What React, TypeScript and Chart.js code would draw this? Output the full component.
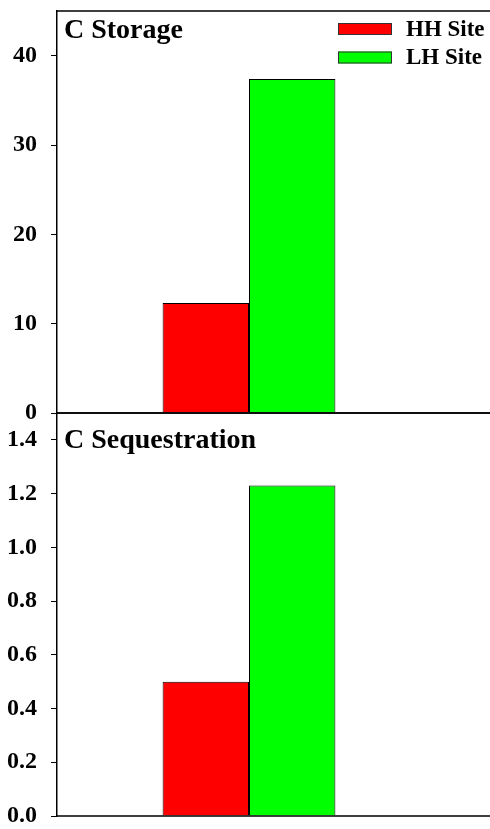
import React, { useEffect, useRef } from "react";
import { Chart, registerables } from "chart.js";

Chart.register(...registerables);

const categories = ["C"];
const seriesNames = ["HH Site", "LH Site"];
const seriesColors = ["#ff0000", "#00ff00"];
const storageHH = [12.3];
const storageLH = [37.4];
const seqHH = [0.5];
const seqLH = [1.23];
const storageTicks = [0, 10, 20, 30, 40];
const seqTicks = [0, 0.2, 0.4, 0.6, 0.8, 1.0, 1.2, 1.4];
const storageTitle = "C Storage";
const seqTitle = "C Sequestration";

const FONT = '"Liberation Serif", "Times New Roman", serif';

const framePlugin = {
  id: "frame",
  afterDraw(chart: any) {
    const { ctx, chartArea, width } = chart;
    const o = chart.options.plugins.frame || {};
    ctx.save();
    ctx.strokeStyle = "#000";
    ctx.lineWidth = 1.5;
    ctx.beginPath();
    ctx.moveTo(chartArea.left, chartArea.top);
    ctx.lineTo(width, chartArea.top);
    ctx.moveTo(chartArea.left, chartArea.bottom);
    ctx.lineTo(width, chartArea.bottom);
    ctx.stroke();
    // panel title
    ctx.fillStyle = "#000";
    ctx.font = `bold 28px ${FONT}`;
    ctx.textAlign = "left";
    ctx.textBaseline = "alphabetic";
    ctx.fillText(o.title || "", chartArea.left + 7, chartArea.top + (o.titleOffset || 27));
    // legend
    if (o.legend) {
      const ds = chart.data.datasets;
      ds.forEach((d: any, i: number) => {
        const y = chartArea.top + 18 + i * 28.5;
        ctx.fillStyle = d.backgroundColor;
        ctx.fillRect(338, y - 6, 54, 12);
        ctx.strokeStyle = "#333";
        ctx.lineWidth = 1;
        ctx.strokeRect(338.5, y - 5.5, 53, 11);
        ctx.fillStyle = "#000";
        ctx.font = `bold 23px ${FONT}`;
        ctx.textBaseline = "middle";
        ctx.fillText(d.label, 406, y + 1);
      });
    }
    ctx.restore();
  },
};

function makeConfig(hh: number[], lh: number[], ticks: number[], max: number, decimals: number, title: string, titleOffset: number, legend: boolean, padTop: number, padBottom: number) {
  return {
    type: "bar" as const,
    data: {
      labels: categories,
      datasets: [
        { label: seriesNames[0], data: hh, backgroundColor: seriesColors[0], borderColor: "#000", borderWidth: 1 },
        { label: seriesNames[1], data: lh, backgroundColor: seriesColors[1], borderColor: "#000", borderWidth: 1 },
      ],
    },
    options: {
      animation: false,
      responsive: false,
      maintainAspectRatio: false,
      layout: { padding: { top: padTop, bottom: padBottom, left: 0, right: 49 } },
      datasets: { bar: { categoryPercentage: 0.45, barPercentage: 1.0 } },
      plugins: {
        legend: { display: false },
        tooltip: { enabled: false },
        frame: { title, titleOffset, legend },
      },
      scales: {
        x: { display: false },
        y: {
          min: 0,
          max,
          afterBuildTicks: (scale: any) => {
            scale.ticks = ticks.map((v) => ({ value: v }));
          },
          afterFit: (scale: any) => {
            scale.width = 57;
            scale.paddingTop = 0;
            scale.paddingBottom = 0;
          },
          border: { display: true, color: "#000", width: 1.5 },
          grid: { drawOnChartArea: false, drawTicks: true, tickLength: 6, color: "#000", lineWidth: 1 },
          ticks: {
            padding: 14,
            color: "#000",
            font: { family: FONT, size: 24, weight: "bold" },
            callback: (v: any) => Number(v).toFixed(decimals),
          },
        },
      },
    },
    plugins: [framePlugin],
  };
}

function Panel(props: { top: number; height: number; config: any }) {
  const ref = useRef<HTMLCanvasElement | null>(null);
  useEffect(() => {
    if (!ref.current) return;
    const chart = new Chart(ref.current, props.config);
    return () => chart.destroy();
  }, []);
  return (
    <canvas
      ref={ref}
      width={490}
      height={props.height}
      style={{ position: "absolute", left: 0, top: props.top, width: 490, height: props.height }}
    />
  );
}

export default function App() {
  const topCfg = makeConfig(storageHH, storageLH, storageTicks, 45, 0, storageTitle, 27, true, 11, 27);
  const botCfg = makeConfig(seqHH, seqLH, seqTicks, 1.5, 1, seqTitle, 35, false, 13, 13);
  return (
    <div style={{ position: "absolute", left: 0, top: 0, width: 490, height: 829, background: "#fff" }}>
      <Panel top={0} height={440} config={topCfg} />
      <Panel top={400} height={429} config={botCfg} />
    </div>
  );
}
